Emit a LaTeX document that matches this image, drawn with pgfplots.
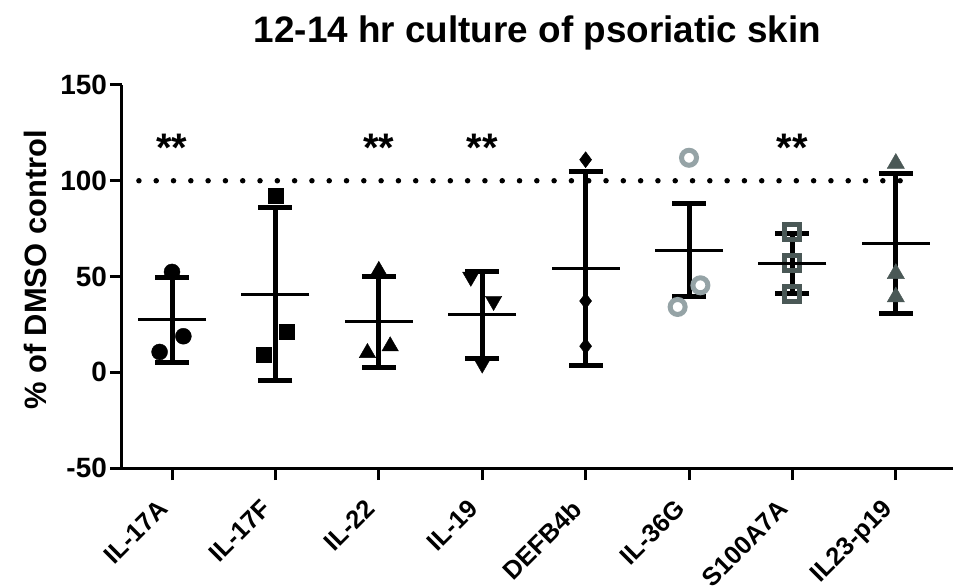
\documentclass[border=0pt]{standalone}
\usepackage{fontspec}
\setmainfont{Liberation Sans}
\usepackage{pgfplots}
\pgfplotsset{compat=1.18}

\definecolor{ltgray}{HTML}{95A3A6}
\definecolor{dkgray}{HTML}{4A5856}

\begin{document}
\begin{tikzpicture}
\path[use as bounding box] (-122bp,-118bp) rectangle (831bp,468bp);
\begin{axis}[
  at={(0,0)}, anchor=south west,
  scale only axis, width=831bp, height=383bp,
  xmin=-0.4836, xmax=7.553, ymin=-50, ymax=150,
  axis x line=bottom, axis y line=left,
  axis line style={line width=3bp, -},
  tick align=outside,
  major tick length=12bp,
  tick style={line width=3bp, black},
  xtick={0,1,2,3,4,5,6,7},
  xticklabels={IL-17A,IL-17F,IL-22,IL-19,DEFB4b,IL-36G,S100A7A,IL23-p19},
  ytick={-50,0,50,100,150},
  yticklabels={-50,0,50,100,150},
  xticklabel style={xshift=-15bp, yshift=-18bp, rotate=45,
    font=\bfseries\fontsize{25.5}{25.5}\selectfont,
    anchor=north east, inner sep=0pt},
  yticklabel style={font=\bfseries\fontsize{28}{28}\selectfont,
    anchor=east, inner sep=0pt, xshift=-3bp},
  clip=false,
]

% reference line at 100 %
\addplot[line width=5.5bp, line cap=round, dash pattern=on 0bp off 17.3bp]
  coordinates {(-0.32,100) (7.05,100)};

% individual values
\addplot[only marks, mark=*, mark size=8bp, black]
  coordinates {(0,52.4) (0.11,18.8) (-0.12,10.6)};
\addplot[only marks, mark=square*, mark size=7.5bp, black]
  coordinates {(1,92.4) (1.11,21) (0.89,9.4)};
\addplot[only marks, mark=triangle*, mark size=9.5bp, black]
  coordinates {(2,53) (2.11,13.6) (1.89,10.1)};
\addplot[only marks, mark=triangle*, mark size=9.5bp, black, mark options={rotate=180}]
  coordinates {(2.89,49.8) (3.11,37.2) (3,4.5)};
\addplot[only marks, mark=diamond*, mark size=8bp, black]
  coordinates {(4,111) (4,37.2) (4,13.6)};
\addplot[only marks, mark=o, mark size=7.5bp, line width=5bp, ltgray]
  coordinates {(5,112) (5.11,45.4) (4.89,34.1)};
\addplot[only marks, mark=square, mark size=7.5bp, line width=5bp, dkgray,
  mark options={rounded corners=3bp}]
  coordinates {(6,73.3) (6,56.8) (6,41.1)};
\addplot[only marks, mark=triangle*, mark size=10bp, dkgray]
  coordinates {(7,109) (7,51.5) (7,39.3)};

% mean with error bars
\addplot[only marks, black, mark=-, mark size=34bp, mark options={line width=3bp},
  error bars/.cd, y dir=both, y explicit,
  error bar style={line width=5bp},
  error mark=|,
  error mark options={mark size=17bp, line width=5bp}]
  table[x=x, y=m, y error=e] {
x m e
0 27.3 22.4
1 40.8 45.1
2 26.3 23.7
3 30.0 22.8
4 54.1 50.7
5 63.8 24.2
6 56.8 15.7
7 67.2 36.5
};

% significance
\node[font=\bfseries\fontsize{40}{40}\selectfont] at (axis cs:0,117) {**};
\node[font=\bfseries\fontsize{40}{40}\selectfont] at (axis cs:2,117) {**};
\node[font=\bfseries\fontsize{40}{40}\selectfont] at (axis cs:3,117) {**};
\node[font=\bfseries\fontsize{40}{40}\selectfont] at (axis cs:6,117) {**};
\end{axis}

\node[font=\bfseries\fontsize{37}{37}\selectfont, inner sep=0pt] at (415.5bp,435bp)
  {12-14 hr culture of psoriatic skin};
\node[font=\bfseries\fontsize{31}{31}\selectfont, rotate=90, inner sep=0pt] at (-87bp,198bp)
  {\% of DMSO control};
\end{tikzpicture}
\end{document}
